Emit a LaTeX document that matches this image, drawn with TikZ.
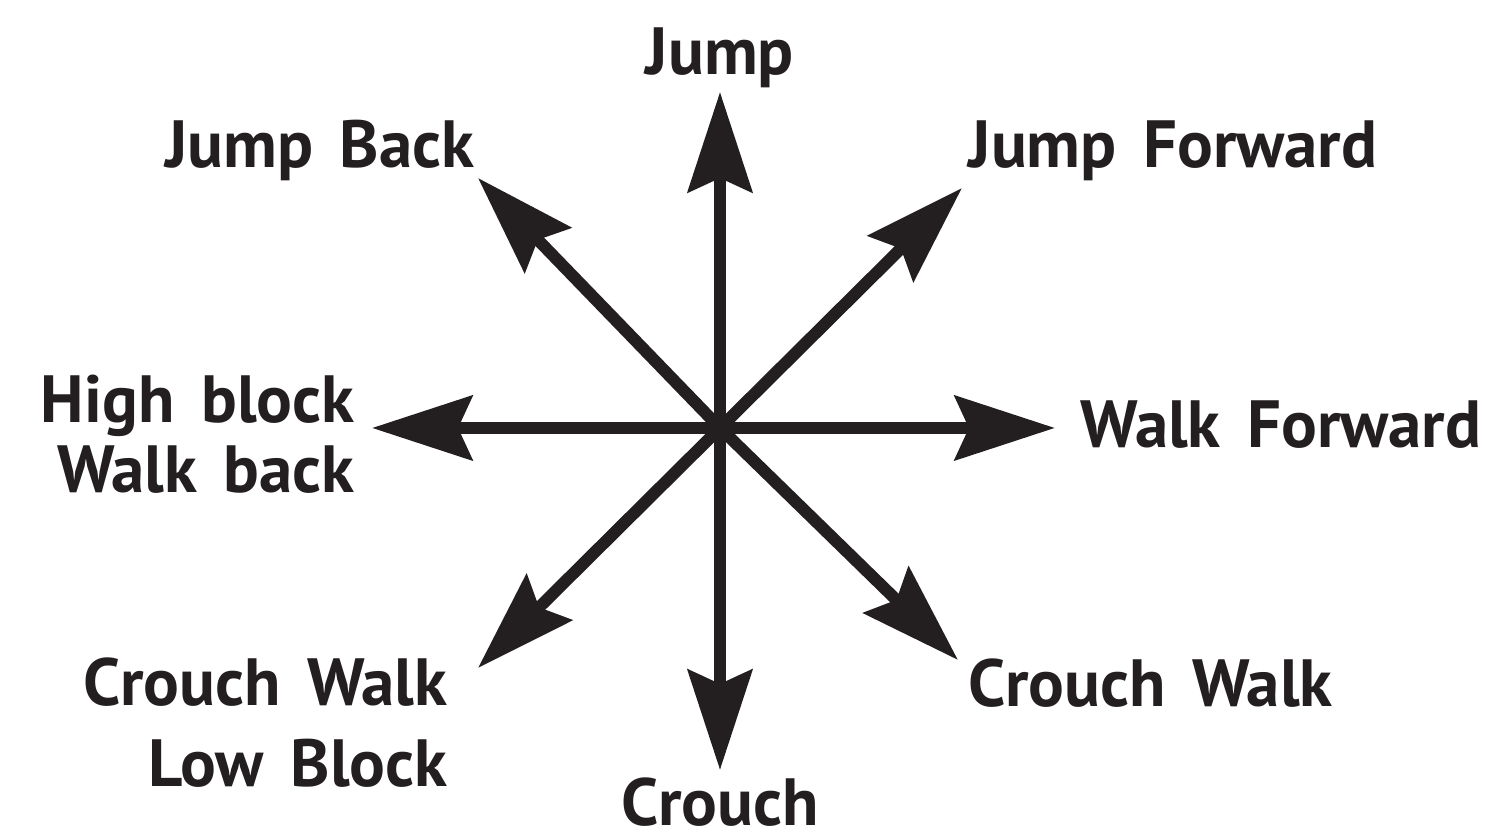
\documentclass[tikz,border=0pt]{standalone}
\usepackage{fontspec}
\setmainfont{PT Sans}
\usetikzlibrary{arrows.meta, positioning}
\definecolor{inkblack}{RGB}{35, 31, 32}
\newcommand{\movefont}{\fontsize{19}{19}\selectfont\bfseries\spaceskip=0.40em\relax}

\begin{document}
\begin{tikzpicture}[
  every node/.style={font=\movefont, text=inkblack, inner sep=0pt},
  arrow/.style={-{Stealth[length=1.0cm, width=0.64cm, inset=0.14cm]}, line width=0.12cm, draw=inkblack},
  lbl/.style={anchor=base west},
  lblr/.style={anchor=base east}
]
  \useasboundingbox (0,0) rectangle (14.91,8.38);

  % Centro e punte delle frecce
  \coordinate (centre) at (7.20,4.10);
  \coordinate (tipN)  at (7.20,7.46);
  \coordinate (tipNE) at (9.62,6.50);
  \coordinate (tipE)  at (10.55,4.10);
  \coordinate (tipSE) at (9.58,1.78);
  \coordinate (tipS)  at (7.20,0.68);
  \coordinate (tipSW) at (4.78,1.70);
  \coordinate (tipW)  at (3.72,4.10);
  \coordinate (tipNW) at (4.78,6.60);

  % Etichette
  \node[anchor=base] (jump) at (7.20,7.63) {Jump};
  \node[lblr] (jumpback) at (4.75,6.70) {Jump Back};
  \node[lbl] (jumpfwd) at (9.68,6.70) {Jump Forward};
  \node[lbl] (walkfwd) at (10.80,3.90) {Walk Forward};
  \node[anchor=east, align=right] (walkback) at (3.55,4.04) {High block\\[1pt]Walk back};
  \node[anchor=east, align=right] (lowblock) at (4.48,1.15) {Crouch Walk\\[4pt]Low Block};
  \node[lbl] (crouchwalk) at (9.68,1.31) {Crouch Walk};
  \node[anchor=base] (crouch) at (7.20,0.12) {Crouch};

  % Frecce
  \foreach \t in {tipN, tipNE, tipE, tipSE, tipS, tipSW, tipW, tipNW}
    \draw[arrow] (centre) -- (\t);

\end{tikzpicture}
\end{document}
